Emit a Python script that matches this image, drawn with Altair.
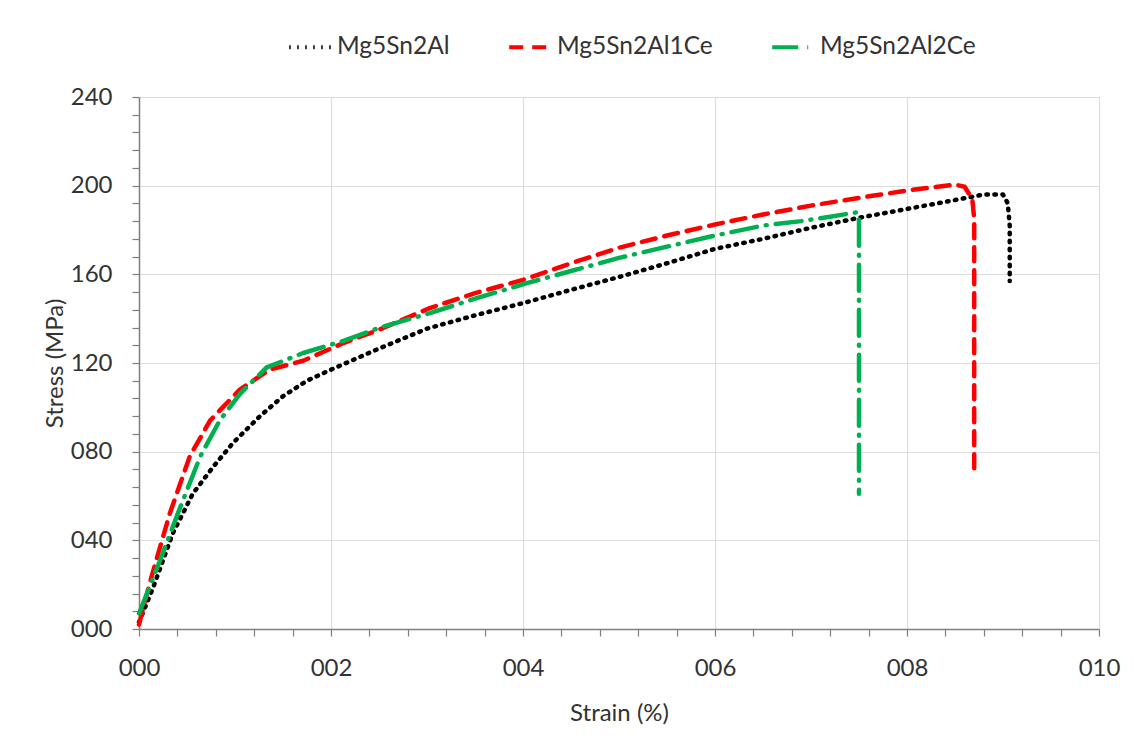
import altair as alt
import pandas as pd

series_names = ["Mg5Sn2Al", "Mg5Sn2Al1Ce", "Mg5Sn2Al2Ce"]
series_colors = ["#000000", "#FF0000", "#00B050"]
series_dashes = [[1.5, 6.5], [14, 9], [26, 9, 1, 9]]

al_x = [0.0, 0.15, 0.35, 0.56, 0.77, 0.98, 1.26, 1.5, 1.75, 2.0, 2.5, 3.0, 3.5, 4.0, 4.5, 5.0,
        5.5, 6.0, 6.5, 7.0, 7.5, 8.0, 8.5, 8.8, 9.0, 9.05, 9.07, 9.07, 9.07]
al_y = [3, 19, 43, 61, 73, 84, 96, 105, 112, 117, 126.5, 135.5, 141.5, 147, 153, 158.8,
        165, 171.5, 176, 181, 185.5, 189.5, 193.5, 196, 196, 192, 182, 170, 157]

ce1_x = [0.0, 0.12, 0.32, 0.53, 0.74, 1.05, 1.36, 1.71, 2.13, 2.5, 3.03, 3.5, 4.0, 4.5, 5.0,
         5.5, 6.0, 6.5, 7.0, 7.5, 8.0, 8.5, 8.6, 8.68, 8.7, 8.7]
ce1_y = [2, 22, 52, 78, 94, 108, 117, 121, 129, 135, 144.8, 151.5, 157.5, 165, 172,
         177.5, 182.5, 187, 191, 194.5, 197.8, 200.5, 199.5, 194, 185, 72]

ce2_x = [0.0, 0.22, 0.43, 0.64, 0.84, 1.05, 1.33, 1.71, 2.13, 2.51, 3.03, 3.5, 4.04, 4.5, 5.0,
         5.5, 6.0, 6.5, 6.9, 7.2, 7.48, 7.5, 7.5]
ce2_y = [7, 31, 55, 78, 94, 106, 118, 124.5, 130, 136, 142.5, 149, 156, 161.5, 167.4,
         172.5, 177.5, 182, 184, 186, 188, 185, 61]

x_ticks = [round(i * 0.4, 1) for i in range(26)]
y_ticks = [i * 8 for i in range(31)]

rows = []
for name, xs, ys in zip(series_names, [al_x, ce1_x, ce2_x], [al_y, ce1_y, ce2_y]):
    for i, (xv, yv) in enumerate(zip(xs, ys)):
        rows.append({"series": name, "strain": xv, "stress": yv, "idx": i})
df = pd.DataFrame(rows)

FONT = "Lato"
TXT = "#333333"
FS = 24

x_axis = alt.Axis(
    values=x_ticks,
    labelExpr="abs(datum.value/2 - round(datum.value/2)) < 0.01 ? format(datum.value, '03d') : ''",
    labelOverlap=False, labelFlush=False,
    labelFont=FONT, labelFontSize=FS, labelColor=TXT, labelPadding=20,
    tickSize=7, tickColor="#7f7f7f", tickWidth=1.2,
    domainColor="#7f7f7f", domainWidth=1.5,
    grid=True, gridColor="#dcdcdc", gridWidth=1.2,
    gridOpacity={"condition": {"test": "abs(datum.value/2 - round(datum.value/2)) < 0.01", "value": 1}, "value": 0},
    title="Strain (%)", titleFont=FONT, titleFontSize=FS, titleFontWeight="normal", titleColor=TXT,
    titleX=480, titleY=84, titleBaseline="middle",
)
y_axis = alt.Axis(
    values=y_ticks,
    labelExpr="datum.value % 40 == 0 ? format(datum.value, '03d') : ''",
    labelOverlap=False, labelFlush=False,
    labelFont=FONT, labelFontSize=FS, labelColor=TXT, labelPadding=20,
    tickSize=7, tickColor="#7f7f7f", tickWidth=1.2,
    domainColor="#7f7f7f", domainWidth=1.5,
    grid=True, gridColor="#dcdcdc", gridWidth=1.2,
    gridOpacity={"condition": {"test": "datum.value % 40 == 0", "value": 1}, "value": 0},
    title="Stress (MPa)", titleFont=FONT, titleFontSize=FS, titleFontWeight="normal", titleColor=TXT,
    titleX=-84, titleY=266, titleAngle=-90, titleBaseline="middle", titleAlign="center",
)

legend = alt.Legend(
    title=None, orient="none", legendX=148, legendY=-74, direction="horizontal",
    symbolType="stroke", symbolSize=1900, symbolStrokeWidth=4,
    labelFont=FONT, labelFontSize=24.5, labelColor=TXT, labelOffset=2,
    columnPadding=51, padding=0,
)

chart = alt.Chart(df).mark_line(strokeWidth=4.5, strokeCap="round", strokeJoin="round").encode(
    x=alt.X("strain:Q", scale=alt.Scale(domain=[0, 10], nice=False), axis=x_axis),
    y=alt.Y("stress:Q", scale=alt.Scale(domain=[0, 240], nice=False), axis=y_axis),
    color=alt.Color("series:N", scale=alt.Scale(domain=series_names, range=series_colors), legend=legend),
    strokeDash=alt.StrokeDash("series:N", scale=alt.Scale(domain=series_names, range=series_dashes), legend=legend),
    order="idx:Q",
).properties(
    width=960, height=532,
    autosize=alt.AutoSizeParams(type="none"),
    padding={"left": 131, "top": 89, "right": 27, "bottom": 111},
).configure_view(stroke=None).configure(background="white")

chart.save("out.html", embed_options={"renderer": "svg", "actions": False})
